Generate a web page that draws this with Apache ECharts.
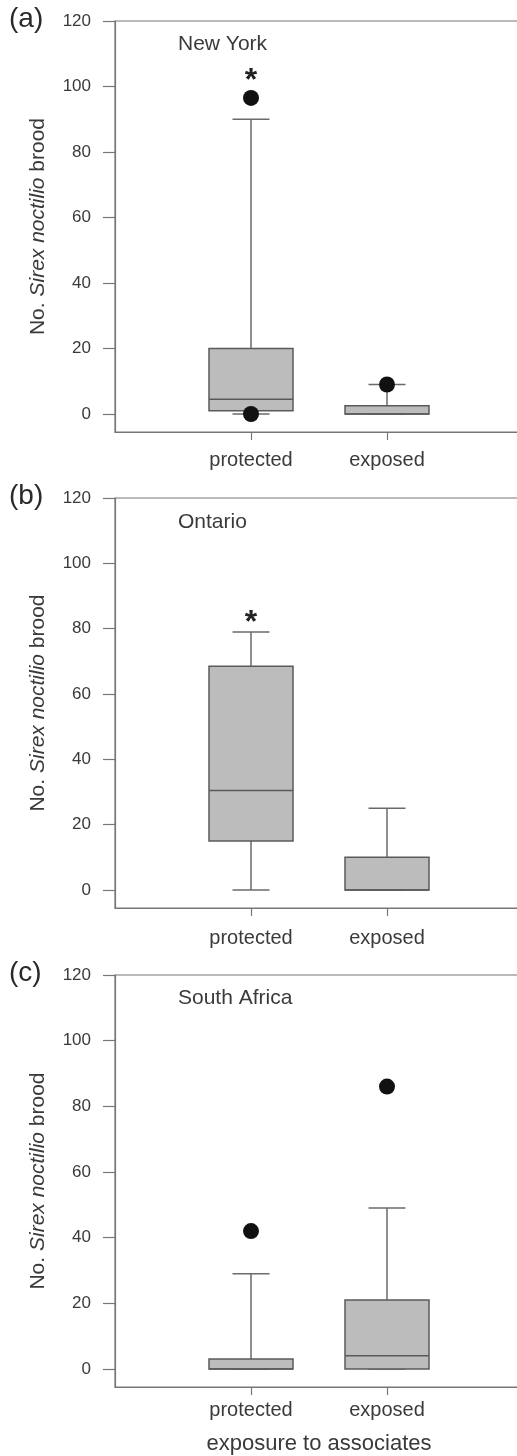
<!DOCTYPE html>
<html>
<head>
<meta charset="utf-8">
<script src="https://cdn.jsdelivr.net/npm/echarts@6/dist/echarts.min.js"></script>
<style>
html,body{margin:0;padding:0;background:#fff;}
#chart{width:517px;height:1456px;}
</style>
</head>
<body>
<div id="chart"></div>
<script>
// ---- data ----
var categories = ['protected', 'exposed'];
var regions = ['New York', 'Ontario', 'South Africa'];
var panelLetters = ['(a)', '(b)', '(c)'];
var yTicks = [0, 20, 40, 60, 80, 100, 120];
// box stats per category: [lowWhisker, Q1, median, Q3, highWhisker]
var nyBoxes = [[0, 1, 4.5, 20, 90], [0, 0, 0, 2.5, 9]];
var onBoxes = [[0, 15, 30.5, 68.5, 79], [0, 0, 0, 10, 25]];
var saBoxes = [[0, 0, 0, 3, 29], [0, 0, 4, 21, 49]];
// outliers: [categoryIndex, value]
var nyOutliers = [[0, 96.5], [0, 0], [1, 9]];
var onOutliers = [];
var saOutliers = [[0, 42], [1, 86]];
// significance asterisks: [categoryIndex, value]
var nyStars = [[0, 104]];
var onStars = [[0, 84]];
var saStars = [];
var xTitle = 'exposure to associates';

// ---- layout / styles ----
var FONT = '"Liberation Sans", Arial, sans-serif';
var TXT = '#3a3a3a';
var LINE = '#6a6a6a';
var panels = [
  {top: 21, height: 411, boxes: nyBoxes, outs: nyOutliers, stars: nyStars, labelMargin: 18, regionTop: 34},
  {top: 498, height: 410, boxes: onBoxes, outs: onOutliers, stars: onStars, labelMargin: 20, regionTop: 512},
  {top: 975, height: 412, boxes: saBoxes, outs: saOutliers, stars: saStars, labelMargin: 13, regionTop: 988}
];
var xCats = [''].concat(categories).concat(['']);
var BOX_W = 84, CAP_W = 37;

function renderBox(params, api) {
  var x = api.value(0);
  var lo = api.coord([x, api.value(1)]);
  var q1 = api.coord([x, api.value(2)]);
  var md = api.coord([x, api.value(3)]);
  var q3 = api.coord([x, api.value(4)]);
  var hi = api.coord([x, api.value(5)]);
  var cx = lo[0];
  var lineStyle = {stroke: LINE, lineWidth: 1.5};
  return {
    type: 'group',
    children: [
      {type: 'line', shape: {x1: cx, y1: q3[1], x2: cx, y2: hi[1]}, style: lineStyle},
      {type: 'line', shape: {x1: cx, y1: q1[1], x2: cx, y2: lo[1]}, style: lineStyle},
      {type: 'line', shape: {x1: cx - CAP_W / 2, y1: hi[1], x2: cx + CAP_W / 2, y2: hi[1]}, style: lineStyle},
      {type: 'line', shape: {x1: cx - CAP_W / 2, y1: lo[1], x2: cx + CAP_W / 2, y2: lo[1]}, style: lineStyle},
      {type: 'rect', shape: {x: cx - BOX_W / 2, y: q3[1], width: BOX_W, height: q1[1] - q3[1]},
        style: {fill: '#bcbcbc', stroke: '#5a5a5a', lineWidth: 1.5}},
      {type: 'line', shape: {x1: cx - BOX_W / 2, y1: md[1], x2: cx + BOX_W / 2, y2: md[1]},
        style: {stroke: '#5a5a5a', lineWidth: 1.5}}
    ]
  };
}

var grids = [], xAxes = [], yAxes = [], series = [], graphics = [];
panels.forEach(function (p, i) {
  grids.push({left: 115, width: 408, top: p.top, height: p.height, show: true,
    borderColor: '#777', borderWidth: 1.2, backgroundColor: 'transparent', containLabel: false,
    outerBoundsMode: 'none'});
  xAxes.push({
    type: 'category', gridIndex: i, data: xCats, boundaryGap: false,
    axisLine: {show: true, onZero: false, lineStyle: {color: '#777', width: 1.2}},
    axisTick: {show: true, length: 8, interval: function (idx) { return idx === 1 || idx === 2; },
      lineStyle: {color: '#777', width: 1.2}},
    axisLabel: {show: true, interval: function (idx) { return idx === 1 || idx === 2; },
      margin: p.labelMargin, color: TXT, fontSize: 20, fontFamily: FONT},
    splitLine: {show: false},
    name: i === 2 ? xTitle : '', nameLocation: 'middle', nameGap: 46,
    nameTextStyle: {color: TXT, fontSize: 22, fontFamily: FONT}
  });
  yAxes.push({
    type: 'value', gridIndex: i, min: -5.5, max: 120,
    axisLine: {show: true, lineStyle: {color: '#777', width: 1.2}},
    axisTick: {show: true, length: 12, customValues: yTicks, lineStyle: {color: '#777', width: 1.2}},
    axisLabel: {show: true, customValues: yTicks, margin: 24, color: TXT, fontSize: 17, fontFamily: FONT},
    splitLine: {show: false},
    name: '{n|No. }{i|Sirex noctilio}{n| brood}', nameLocation: 'middle', nameGap: 66, nameRotate: 90,
    nameTextStyle: {
      rich: {
        n: {color: TXT, fontSize: 21, fontFamily: FONT},
        i: {color: TXT, fontSize: 21, fontFamily: FONT, fontStyle: 'italic'}
      }
    }
  });
  series.push({
    type: 'custom', xAxisIndex: i, yAxisIndex: i, renderItem: renderBox, silent: true,
    data: p.boxes.map(function (b, k) { return [k + 1].concat(b); }),
    encode: {x: 0, y: [1, 2, 3, 4, 5]}
  });
  series.push({
    type: 'scatter', xAxisIndex: i, yAxisIndex: i, symbol: 'circle', symbolSize: 16, silent: true,
    itemStyle: {color: '#111', opacity: 1}, z: 5,
    data: p.outs.map(function (o) { return [o[0] + 1, o[1]]; })
  });
  series.push({
    type: 'scatter', xAxisIndex: i, yAxisIndex: i, symbolSize: 1, silent: true,
    itemStyle: {opacity: 0}, z: 6,
    label: {show: true, position: 'inside', formatter: '*', color: '#222', fontSize: 32,
      fontWeight: 'bold', fontFamily: FONT, offset: [0, 8], opacity: 1},
    data: p.stars.map(function (s) { return [s[0] + 1, s[1]]; })
  });
  graphics.push({type: 'text', left: 9, top: p.top - 16,
    style: {text: panelLetters[i], fill: '#2a2a2a', fontSize: 28, fontFamily: FONT}});
  graphics.push({type: 'text', left: 178, top: p.regionTop,
    style: {text: regions[i], fill: TXT, fontSize: 21, fontFamily: FONT}});
});

var chart = echarts.init(document.getElementById('chart'), null, {renderer: 'canvas'});
chart.setOption({
  animation: false,
  backgroundColor: '#fff',
  grid: grids, xAxis: xAxes, yAxis: yAxes, series: series, graphic: graphics
});
</script>
</body>
</html>
